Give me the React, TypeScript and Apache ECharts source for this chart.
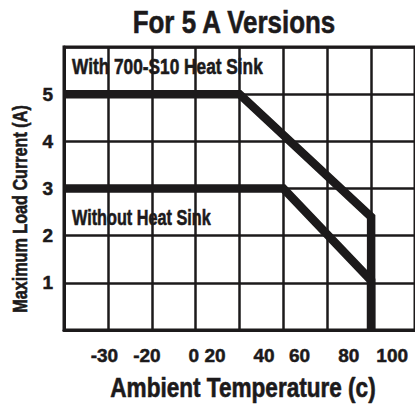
import React, { useEffect, useRef } from "react";
import * as echarts from "echarts";

// Grid columns (x in column units, 0..8), current in A
const withSinkX = [0, 4, 7, 7];
const withSinkY = [5, 5, 2.4, 0];
const withoutSinkX = [0, 5, 7, 7];
const withoutSinkY = [3, 3, 1.05, 0];

const yTickLabels = ["1", "2", "3", "4", "5"];
const xTickLabels = ["-30", "-20", "0 20", "40", "60", "80", "100"];
const xTickAt = [0.92, 1.89, 3.26, 4.56, 5.37, 6.49, 7.48];

const FONT = "'Liberation Sans', Arial, sans-serif";
const INK = "#1c1a1b";

export default function App() {
  const ref = useRef<HTMLDivElement>(null);
  useEffect(() => {
    if (!ref.current) return;
    const chart = echarts.init(ref.current, undefined, { renderer: "svg" });
    const lineStyle = { color: INK, width: 8.5, join: "miter" as const };
    const txt = (text: string, x: number, y: number, size: number, sx: number, align: string, rot = 0) => ({
      type: "text",
      x,
      y,
      rotation: rot,
      scaleX: sx,
      style: {
        text,
        fontFamily: FONT,
        fontWeight: "bold",
        fontSize: size,
        fill: INK,
        stroke: INK,
        lineWidth: 0.6,
        textAlign: align,
        textVerticalAlign: "middle",
      },
      z: 10,
    });
    chart.setOption({
      animation: false,
      backgroundColor: "#fff",
      grid: {
        left: 64,
        top: 47,
        width: 356,
        height: 283,
        show: true,
        borderColor: INK,
        borderWidth: 3,
        containLabel: false,
      },
      xAxis: [
        {
          type: "value",
          min: 0,
          max: 8,
          interval: 1,
          axisLine: { show: true, lineStyle: { color: INK, width: 3 } },
          axisTick: { show: false },
          axisLabel: { show: false },
          splitLine: { show: true, lineStyle: { color: INK, width: 2.5 } },
        },
        {
          type: "value",
          min: 0,
          max: 8,
          position: "bottom",
          axisLine: { show: false },
          axisTick: { show: false },
          splitLine: { show: false },
          axisLabel: {
            show: true,
            customValues: xTickAt,
            margin: 16,
            fontFamily: FONT,
            fontWeight: "bold",
            fontSize: 19,
            color: INK,
            textBorderColor: INK,
            textBorderWidth: 0.5,
            formatter: (v: number) => {
              const i = xTickAt.findIndex((p) => Math.abs(p - v) < 1e-6);
              return i >= 0 ? xTickLabels[i] : "";
            },
          },
        },
      ],
      yAxis: {
        type: "value",
        min: 0,
        max: 6,
        interval: 1,
        axisLine: { show: true, lineStyle: { color: INK, width: 3 } },
        axisTick: { show: false },
        splitLine: { show: true, lineStyle: { color: INK, width: 2.5 } },
        axisLabel: {
          margin: 11,
          fontFamily: FONT,
          fontWeight: "bold",
          fontSize: 19,
          color: INK,
          textBorderColor: INK,
          textBorderWidth: 0.5,
          formatter: (v: number) => (v >= 1 && v <= 5 ? yTickLabels[v - 1] : ""),
        },
      },
      graphic: [
        txt("For 5 A Versions", 234, 22, 32, 0.81, "center"),
        txt("With 700-S10 Heat Sink", 72, 66.5, 22, 0.785, "left"),
        txt("Without Heat Sink", 72, 217.5, 22, 0.738, "left"),
        txt("Ambient Temperature (c)", 243, 387.5, 27, 0.836, "center"),
        txt("Maximum Load Current (A)", 20, 209, 19.5, 0.83, "center", Math.PI / 2),
      ],
      series: [
        {
          type: "line",
          name: "With 700-S10 Heat Sink",
          data: withSinkX.map((x, i) => [x, withSinkY[i]]),
          showSymbol: false,
          symbol: "none",
          lineStyle,
          z: 5,
        },
        {
          type: "line",
          name: "Without Heat Sink",
          data: withoutSinkX.map((x, i) => [x, withoutSinkY[i]]),
          showSymbol: false,
          symbol: "none",
          lineStyle,
          z: 5,
        },
      ],
    });
    return () => chart.dispose();
  }, []);
  return <div ref={ref} style={{ position: "fixed", left: 0, top: 0, width: 415, height: 406 }} />;
}
